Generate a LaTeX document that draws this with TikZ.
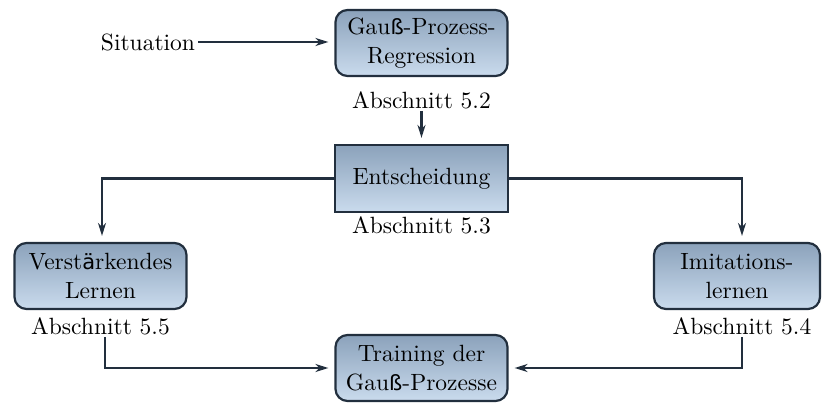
\documentclass[tikz,border=0pt]{standalone}
\usepackage{fontspec}
\setmainfont{lmroman10-regular}[Extension=.otf]
\newfontfamily\fbk{DejaVu Sans}
\usetikzlibrary{arrows.meta}
\definecolor{edge}{HTML}{222F3E}
\definecolor{topc}{HTML}{8BA2BB}
\definecolor{botc}{HTML}{CADBED}
\newcommand{\ssz}{{\fbk\fontsize{21}{30}\selectfont ß}}
\newcommand{\aum}{{\fbk\fontsize{21}{30}\selectfont ä}}
\begin{document}
\begin{tikzpicture}[x=1pt,y=-1pt,
  every node/.style={font=\fontsize{23.5}{29}\selectfont, inner sep=0pt},
  rbox/.style={draw=edge, line width=2.2pt, rounded corners=12pt, top color=topc, bottom color=botc, align=center, minimum width=172pt, minimum height=66pt},
  sbox/.style={draw=edge, line width=2.2pt, top color=topc, bottom color=botc, align=center, minimum width=173pt, minimum height=67pt},
  lab/.style={inner sep=2pt},
  arr/.style={draw=edge, line width=2.4pt, -{Stealth[length=13pt,width=8pt,inset=4pt]}, shorten >=6pt}
]
\useasboundingbox (0,0) rectangle (822,403);
\node[rbox] (gpr) at (421.5,43) {Gau\ssz-Prozess-\\Regression};
\node[lab] (l52) at (421.5,100) {Abschnitt 5.2};
\node[sbox] (ent) at (421.5,178.5) {Entscheidung};
\node[lab] (l53) at (421.5,225) {Abschnitt 5.3};
\node[rbox] (ver) at (100.5,276) {Verst\aum rkendes\\Lernen};
\node[lab] (l55) at (100.5,326) {Abschnitt 5.5};
\node[rbox, minimum width=166pt] (imi) at (737,276) {Imitations-\\lernen};
\node[lab] (l54) at (742,326) {Abschnitt 5.4};
\node[rbox] (tra) at (421.5,368) {Training der\\Gau\ssz-Prozesse};
\node[lab] (sit) at (148,42) {Situation};
\coordinate (sitend) at (198,42);

\draw[arr] (sitend) -- (sitend -| gpr.west);
\draw[arr] (l52.south) -- (ent.north);
\draw[arr] (ent.west) -| ([xshift=1.5pt]ver.north);
\draw[arr] (ent.east) -| ([xshift=5pt]imi.north);
\draw[arr] ([xshift=4.5pt]l55.south) |- (tra.west);
\draw[arr] (l54.south) |- (tra.east);
\end{tikzpicture}
\end{document}
